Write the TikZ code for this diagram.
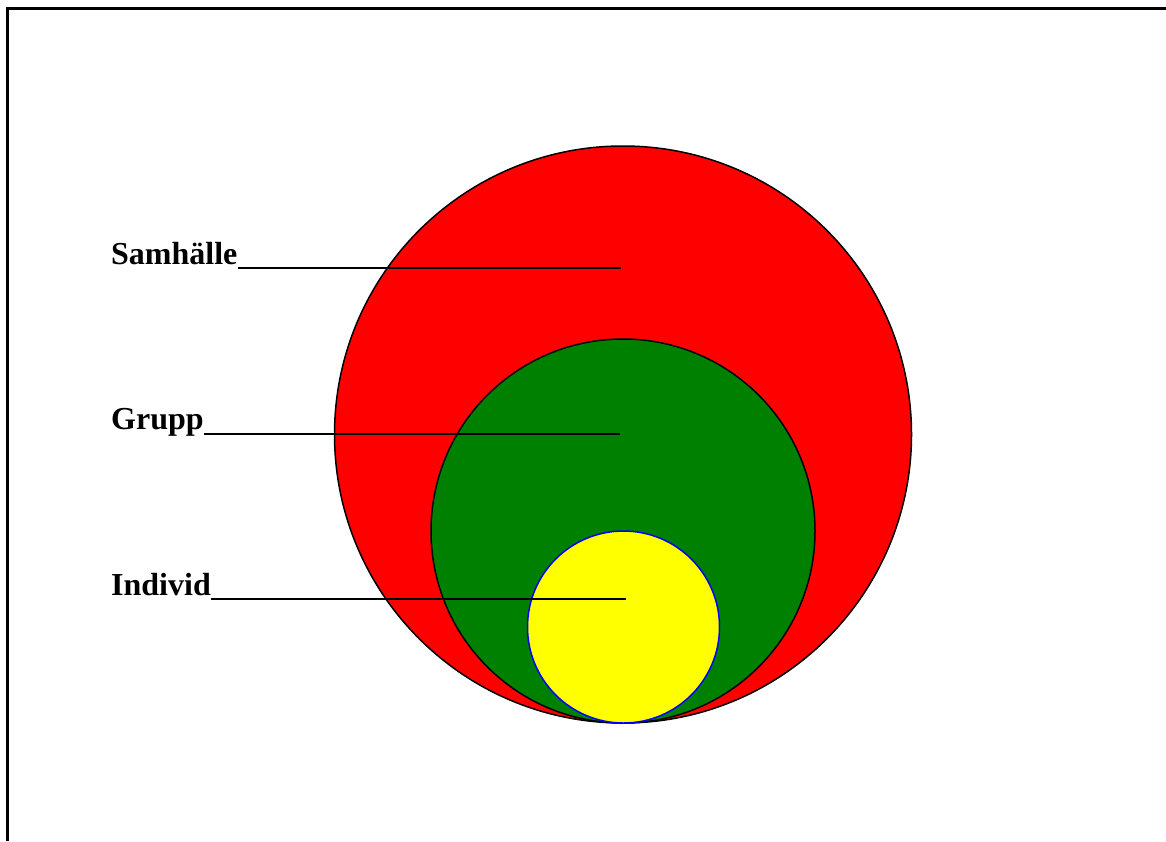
\documentclass[tikz,border=0pt]{standalone}
\usepackage{fontspec}
\setmainfont{Liberation Serif}
\definecolor{cRed}{RGB}{255,0,0}
\definecolor{cGreen}{RGB}{0,128,0}
\definecolor{cYellow}{RGB}{255,255,0}
\definecolor{cBlue}{RGB}{0,0,255}
\begin{document}
\begin{tikzpicture}[x=1pt,y=-1pt,
  ring/.style={draw=black,line width=1.5pt},
  lbl/.style={anchor=base west,inner sep=0pt,font=\fontsize{32}{38}\selectfont\bfseries},
  leader/.style={draw=black,line width=2pt}]
\useasboundingbox (0,0) rectangle (1166,841);
% frame
\draw[line width=3.5pt] (6,8.5) -- (1166,8.5);
\draw[line width=3.5pt] (7.5,7) -- (7.5,841);
% circles
\fill[cRed] (623,434.5) circle[radius=288.5];
\draw[ring] (623,434.5) circle[radius=288.5];
\fill[cGreen] (623,531) circle[radius=192];
\draw[ring] (623,531) circle[radius=192];
\fill[cYellow] (623.5,627) circle[radius=96];
\draw[draw=cBlue,line width=1.5pt] (623.5,627) circle[radius=96];
% labels
\node[lbl] (sam) at (111,264) {Samhälle};
\node[lbl] (gru) at (111,429) {Grupp};
\node[lbl] (ind) at (111,595) {Individ};
\coordinate (samE) at (621,268);
\coordinate (gruE) at (620,434);
\coordinate (indE) at (626,599);
\draw[leader] (sam.base east) ++(0,4) -- (samE);
\draw[leader] (gru.base east) ++(0,5) -- (gruE);
\draw[leader] (ind.base east) ++(0,4) -- (indE);
\end{tikzpicture}
\end{document}
